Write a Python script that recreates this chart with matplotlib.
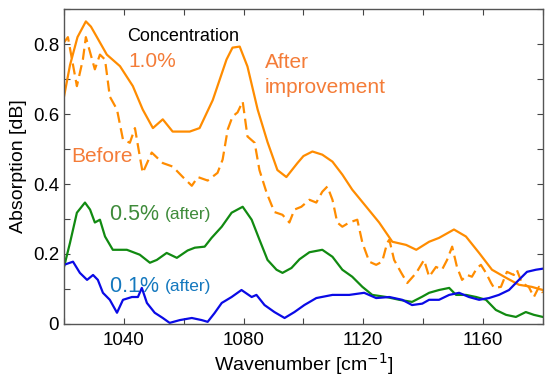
import matplotlib
matplotlib.use("Agg")
import matplotlib.pyplot as plt
from matplotlib.ticker import MultipleLocator, FixedLocator

plt.rcParams['font.family'] = ['Liberation Sans', 'DejaVu Sans']

# Solid orange: 1.0% after improvement
after_x = [1020, 1022, 1024.5, 1027.3, 1029, 1031, 1034.3, 1038.7, 1043, 1046.3, 1049.7,
           1053, 1056.3, 1062, 1065.3, 1069.7, 1074.3, 1076.3, 1078.7, 1081.3, 1084.7,
           1088, 1091.3, 1094.3, 1098, 1100, 1103, 1106.3, 1109.7, 1113, 1116.3, 1121,
           1125.3, 1129.7, 1134.3, 1137.7, 1142, 1145.3, 1150.3, 1154.3, 1158.7, 1163,
           1167.7, 1172, 1176.3, 1180]
after_y = [0.65, 0.74, 0.82, 0.865, 0.85, 0.82, 0.77, 0.737, 0.68, 0.613, 0.56,
           0.585, 0.55, 0.55, 0.56, 0.64, 0.756, 0.79, 0.793, 0.736, 0.613,
           0.52, 0.44, 0.42, 0.46, 0.48, 0.493, 0.484, 0.464, 0.427, 0.384, 0.335,
           0.29, 0.235, 0.226, 0.212, 0.235, 0.246, 0.27, 0.25, 0.203, 0.155,
           0.132, 0.112, 0.106, 0.097]

# Dashed orange: 1.0% before
before_x = [1020, 1021.3, 1024.3, 1026.3, 1027.3, 1030.3, 1032, 1033.7, 1035.3, 1037.7,
            1039.7, 1042, 1043.7, 1045.3, 1046.3, 1049.3, 1053, 1056.3, 1059.7, 1062.7,
            1064.7, 1068, 1071.3, 1073, 1074.7, 1076.3, 1078, 1079.7, 1081.3, 1083.7,
            1085.3, 1087.7, 1090.3, 1093, 1095.3, 1097, 1099.3, 1102, 1104.3, 1106.3,
            1108, 1109.7, 1111.3, 1113, 1115.3, 1118, 1119.7, 1122, 1124.3, 1126.3,
            1128, 1128.7, 1130.3, 1132.7, 1134.7, 1137.7, 1140.3, 1142, 1144.3, 1146.3,
            1148, 1149.7, 1151.3, 1153, 1154.7, 1156.3, 1158, 1159.3, 1161, 1162.7,
            1163.7, 1166, 1168, 1170.3, 1171.3, 1173, 1175.3, 1177, 1178.7, 1180]
before_y = [0.805, 0.82, 0.68, 0.756, 0.82, 0.728, 0.77, 0.756, 0.65, 0.613,
            0.527, 0.518, 0.56, 0.48, 0.432, 0.49, 0.46, 0.45, 0.42, 0.395,
            0.42, 0.41, 0.432, 0.47, 0.556, 0.593, 0.605, 0.636, 0.536, 0.518,
            0.44, 0.375, 0.32, 0.312, 0.29, 0.327, 0.335, 0.355, 0.347, 0.378,
            0.393, 0.355, 0.29, 0.278, 0.29, 0.298, 0.232, 0.178, 0.169, 0.178,
            0.232, 0.241, 0.183, 0.146, 0.117, 0.146, 0.183, 0.135, 0.163, 0.155,
            0.183, 0.221, 0.163, 0.126, 0.14, 0.135, 0.16, 0.169, 0.146, 0.117,
            0.103, 0.106, 0.149, 0.14, 0.155, 0.117, 0.106, 0.077, 0.106, 0.089]

# Green: 0.5% after
c05_x = [1020, 1022, 1024.3, 1027, 1028.7, 1030.3, 1032, 1033.7, 1036.3, 1041, 1045.3,
         1048.7, 1051, 1054.3, 1057.7, 1061.3, 1063.7, 1067, 1069.3, 1072.7, 1076,
         1079.7, 1082.7, 1085.3, 1088, 1091, 1093, 1096, 1098.7, 1102, 1106.3, 1109.7,
         1113, 1116.3, 1119.7, 1123, 1127.7, 1132, 1136.3, 1139.7, 1142, 1145.3, 1148.7,
         1151, 1154.3, 1157.7, 1161, 1164.3, 1167.7, 1171, 1174.3, 1177, 1180]
c05_y = [0.163, 0.232, 0.318, 0.347, 0.327, 0.29, 0.298, 0.25, 0.212, 0.212, 0.198,
         0.175, 0.183, 0.203, 0.189, 0.21, 0.218, 0.221, 0.246, 0.278, 0.318,
         0.335, 0.298, 0.241, 0.183, 0.155, 0.146, 0.16, 0.185, 0.205, 0.212, 0.192,
         0.155, 0.135, 0.106, 0.083, 0.077, 0.069, 0.063, 0.078, 0.089, 0.097, 0.103,
         0.083, 0.083, 0.077, 0.069, 0.04, 0.026, 0.02, 0.034, 0.026, 0.02]

# Blue: 0.1% after
c01_x = [1020, 1023, 1025.3, 1027.7, 1029.7, 1031.3, 1033, 1035.3, 1037.7, 1039.7, 1042.7,
         1044.7, 1046, 1047.7, 1050.3, 1053, 1055.3, 1058.7, 1062.7, 1066, 1068, 1070.3,
         1072.7, 1076, 1079.3, 1082.7, 1084.3, 1087, 1090.3, 1093.7, 1097, 1100.3, 1104.3,
         1109.7, 1115.3, 1120.3, 1124.3, 1128.7, 1133, 1136.3, 1139.7, 1142, 1145.3,
         1148.7, 1152, 1155.3, 1158.7, 1162, 1165.3, 1168.7, 1172, 1174.7, 1177.7, 1180]
c01_y = [0.169, 0.178, 0.146, 0.126, 0.14, 0.126, 0.089, 0.069, 0.032, 0.069, 0.077,
         0.077, 0.103, 0.06, 0.032, 0.017, 0.003, 0.011, 0.017, 0.011, 0.006, 0.031,
         0.06, 0.077, 0.097, 0.077, 0.083, 0.054, 0.034, 0.017, 0.034, 0.054, 0.074,
         0.083, 0.083, 0.089, 0.074, 0.077, 0.069, 0.054, 0.058, 0.069, 0.069,
         0.083, 0.089, 0.077, 0.069, 0.074, 0.083, 0.097, 0.126, 0.149, 0.155, 0.158]

x_ticklabels = [1040, 1080, 1120, 1160]
y_ticklabels = [0, 0.2, 0.4, 0.6, 0.8]

fig = plt.figure(figsize=(5.5, 3.82), dpi=100)
ax = fig.add_axes([0.1164, 0.152, 0.8706, 0.824])

ORANGE = '#FF8C00'
GREEN = '#118A11'
BLUE = '#0A0AE6'

ax.plot(after_x, after_y, color=ORANGE, lw=1.6)
ax.plot(before_x, before_y, color=ORANGE, lw=1.6, ls=(0, (5, 2.5)))
ax.plot(c05_x, c05_y, color=GREEN, lw=1.6)
ax.plot(c01_x, c01_y, color=BLUE, lw=1.6)

ax.set_xlim(1020, 1180)
ax.set_ylim(0, 0.9)
ax.xaxis.set_major_locator(FixedLocator(x_ticklabels))
ax.xaxis.set_minor_locator(MultipleLocator(20))
ax.yaxis.set_major_locator(FixedLocator(y_ticklabels))
ax.yaxis.set_minor_locator(MultipleLocator(0.1))
ax.set_yticklabels(['0', '0.2', '0.4', '0.6', '0.8'])
ax.tick_params(which='both', direction='in', top=True, right=True, labelsize=13.5,
               color='#444444', width=0.8)
ax.tick_params(which='major', length=4)
ax.tick_params(which='minor', length=4)
ax.tick_params(axis='x', pad=6)
for s in ax.spines.values():
    s.set_color('#555555')
    s.set_linewidth(1.0)

ax.set_xlabel('Wavenumber [cm$^{-1}$]', fontsize=14, labelpad=1)
ax.set_ylabel('Absorption [dB]', fontsize=14, labelpad=4)

TXT_OR = '#F47C38'
ax.text(1041, 0.822, 'Concentration', fontsize=13, color='black', va='center', ha='left')
ax.text(1041.5, 0.75, '1.0%', fontsize=15, color=TXT_OR, va='center', ha='left')
ax.text(1087, 0.712, 'After\nimprovement', fontsize=15, color=TXT_OR, va='center',
        ha='left', linespacing=1.4)
ax.text(1022.5, 0.478, 'Before', fontsize=15, color=TXT_OR, va='center', ha='left')
t1 = ax.text(1035.3, 0.312, '0.5% ', fontsize=15.5, color='#3E8B3A', va='center', ha='left')
ax.annotate('(after)', xycoords=t1, xy=(1, 0.5), fontsize=12.5, color='#3E8B3A',
            va='center', ha='left')
t2 = ax.text(1035.3, 0.106, '0.1% ', fontsize=15.5, color='#1478BE', va='center', ha='left')
ax.annotate('(after)', xycoords=t2, xy=(1, 0.5), fontsize=12.5, color='#1478BE',
            va='center', ha='left')

fig.savefig('out.png', dpi=100)
